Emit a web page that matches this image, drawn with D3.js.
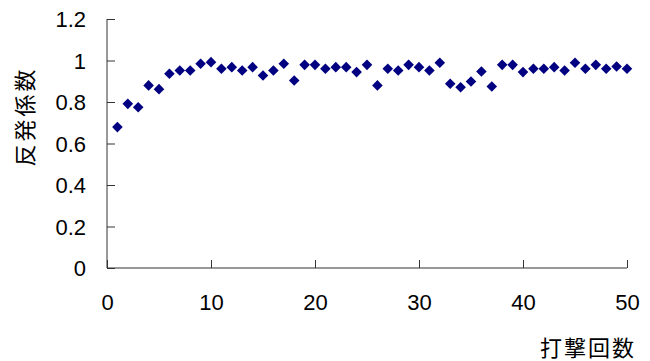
<!DOCTYPE html>
<html>
<head>
<meta charset="utf-8">
<script src="https://cdn.jsdelivr.net/npm/d3@7"></script>
<style>
  html, body { margin: 0; padding: 0; background: #fff; }
  svg { display: block; }
  .tick text { font-family: "Liberation Sans Narrow", "Arial Narrow", "Liberation Sans", sans-serif; font-size: 22px; fill: #000; }
  .axis-title { font-family: "Noto Sans CJK JP", sans-serif; font-size: 22px; fill: #000; }
</style>
</head>
<body>
<svg id="chart" width="650" height="361"></svg>
<script>
// Hit number (打撃回数) and coefficient of restitution (反発係数)
const hits = d3.range(1, 51);
const coefficients = [
  0.679, 0.791, 0.775, 0.880, 0.862, 0.936, 0.952, 0.952, 0.984, 0.992,
  0.960, 0.968, 0.952, 0.968, 0.928, 0.952, 0.984, 0.904, 0.979, 0.979,
  0.960, 0.968, 0.968, 0.944, 0.979, 0.880, 0.960, 0.952, 0.979, 0.968,
  0.952, 0.989, 0.888, 0.871, 0.899, 0.947, 0.875, 0.979, 0.979, 0.944,
  0.960, 0.960, 0.968, 0.952, 0.989, 0.960, 0.979, 0.960, 0.971, 0.960
];
const xTicks = [0, 10, 20, 30, 40, 50];
const yTicks = [0, 0.2, 0.4, 0.6, 0.8, 1, 1.2];
const xTitle = "打撃回数";
const yTitle = "反発係数";

const svg = d3.select("#chart");
const plotLeft = 107, plotRight = 627, plotTop = 19, plotBottom = 268;

const x = d3.scaleLinear().domain([0, 50]).range([plotLeft, plotRight]);
const y = d3.scaleLinear().domain([0, 1.2]).range([plotBottom, plotTop]);

const axisColor = "#333";

// Y axis with inward ticks
const yAxis = svg.append("g")
  .attr("transform", `translate(${plotLeft},0)`)
  .call(d3.axisLeft(y).tickValues(yTicks).tickSize(-8).tickPadding(21)
    .tickFormat(d => d3.format("~g")(d)));
yAxis.select(".domain").attr("stroke", axisColor).attr("d", `M0,${plotTop}V${plotBottom}`);
yAxis.selectAll(".tick line").attr("stroke", axisColor);
yAxis.selectAll(".tick text").attr("dy", "0.36em");

// X axis with inward ticks
const xAxis = svg.append("g")
  .attr("transform", `translate(0,${plotBottom})`)
  .call(d3.axisBottom(x).tickValues(xTicks).tickSize(-8).tickPadding(26));
xAxis.select(".domain").attr("stroke", axisColor).attr("d", `M${plotLeft},0H${plotRight}`);
xAxis.selectAll(".tick line").attr("stroke", axisColor);

// Diamond markers (rotated squares)
const marker = d3.symbol().type(d3.symbolSquare).size(56)();
svg.append("g")
  .selectAll("path")
  .data(hits.map((h, i) => ({ h, v: coefficients[i] })))
  .join("path")
  .attr("transform", d => `translate(${x(d.h)},${y(d.v)}) rotate(45)`)
  .attr("d", marker)
  .attr("fill", "#000080");

// Axis titles
svg.append("text")
  .attr("class", "axis-title")
  .attr("transform", `translate(33,${(plotTop + plotBottom) / 2 - 27}) rotate(-90)`)
  .attr("text-anchor", "middle")
  .attr("letter-spacing", "3px")
  .text(yTitle);

svg.append("text")
  .attr("class", "axis-title")
  .attr("x", 636)
  .attr("y", 356)
  .attr("text-anchor", "end")
  .attr("letter-spacing", "2px")
  .text(xTitle);
</script>
</body>
</html>
